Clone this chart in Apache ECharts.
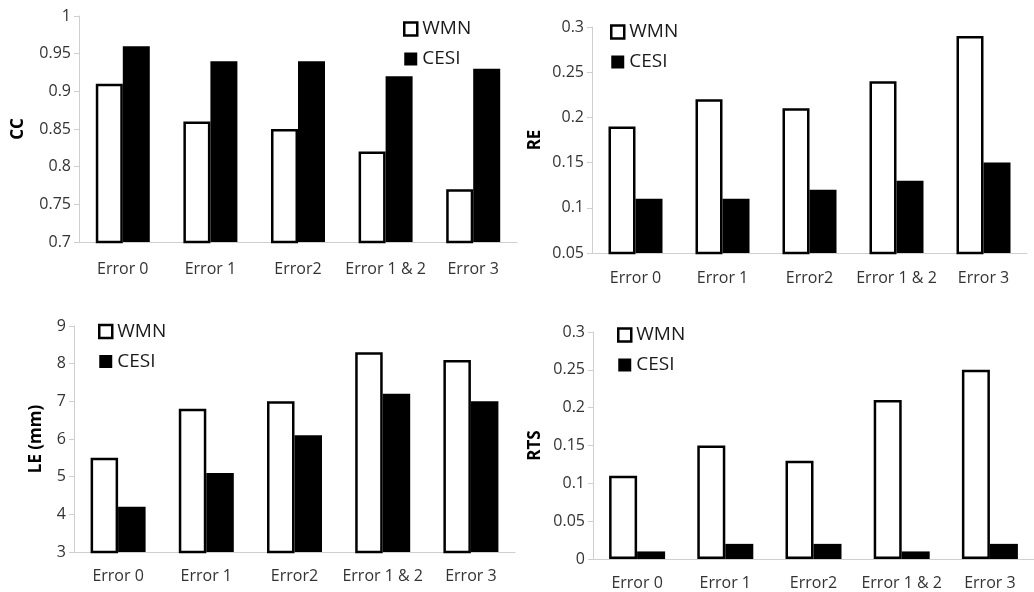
<!DOCTYPE html>
<html>
<head>
<meta charset="utf-8">
<script src="https://cdn.jsdelivr.net/npm/echarts@6/dist/echarts.min.js"></script>
<style>
html,body{margin:0;padding:0;background:#fff;}
#chart{width:1034px;height:592px;}
</style>
</head>
<body>
<div id="chart"></div>
<script>
// Data
const categories = ['Error 0', 'Error 1', 'Error2', 'Error 1 & 2', 'Error 3'];
const seriesNames = ['WMN', 'CESI'];

const ccWMN  = [0.91, 0.86, 0.85, 0.82, 0.77];
const ccCESI = [0.96, 0.94, 0.94, 0.92, 0.93];

const reWMN  = [0.19, 0.22, 0.21, 0.24, 0.29];
const reCESI = [0.11, 0.11, 0.12, 0.13, 0.15];

const leWMN  = [5.5, 6.8, 7.0, 8.3, 8.1];
const leCESI = [4.2, 5.1, 6.1, 7.2, 7.0];

const rtsWMN  = [0.11, 0.15, 0.13, 0.21, 0.25];
const rtsCESI = [0.01, 0.02, 0.02, 0.01, 0.02];

const panelTitles = ['CC', 'RE', 'LE (mm)', 'RTS'];
const yMins = [0.7, 0.05, 3, 0];
const yMaxs = [1, 0.3, 9, 0.3];
const yIntervals = [0.05, 0.05, 1, 0.05];

// Layout / style
const FONT = '"Open Sans", "DejaVu Sans", sans-serif';
const grids = [
  {left: 79,  top: 16,  width: 438, height: 226},
  {left: 592, top: 27,  width: 435, height: 226},
  {left: 74,  top: 326, width: 441, height: 226},
  {left: 593, top: 332, width: 446, height: 227}
];
const nameGaps = [52, 48.5, 29, 49.5];
const labelMargins = [19, 17.5, 16, 16.5];
const barWidths = [27, 27, 27.5, 28];
const legendPos = [
  {left: 403, top: 19.5},
  {left: 610, top: 22.5},
  {left: 98,  top: 322},
  {left: 617, top: 325.5}
];
const axisGray = '#cfcfcf';
const textColor = '#333333';

const data = [[ccWMN, ccCESI], [reWMN, reCESI], [leWMN, leCESI], [rtsWMN, rtsCESI]];

const xAxes = [], yAxes = [], series = [], legends = [];
for (let i = 0; i < 4; i++) {
  xAxes.push({
    type: 'category', gridIndex: i, data: categories,
    axisLine: {lineStyle: {color: axisGray, width: 1}},
    axisTick: {show: false},
    axisLabel: {interval: 0, fontFamily: FONT, fontSize: 16, color: textColor, margin: labelMargins[i]}
  });
  yAxes.push({
    type: 'value', gridIndex: i, min: yMins[i], max: yMaxs[i], interval: yIntervals[i],
    name: panelTitles[i], nameLocation: 'middle', nameGap: nameGaps[i], nameRotate: 90,
    nameTextStyle: {fontFamily: FONT, fontSize: 17, fontWeight: 'bold', color: '#000'},
    axisLine: {show: true, lineStyle: {color: axisGray, width: 1}},
    axisTick: {show: true, length: 5, lineStyle: {color: axisGray}},
    splitLine: {show: false},
    axisLabel: {fontFamily: FONT, fontSize: 16, color: textColor, margin: 8}
  });
  series.push({
    name: seriesNames[0], type: 'bar', xAxisIndex: i, yAxisIndex: i,
    data: data[i][0], barWidth: barWidths[i], barGap: '0%',
    itemStyle: {color: '#ffffff', borderColor: '#000000', borderWidth: 2.5}
  });
  series.push({
    name: seriesNames[1], type: 'bar', xAxisIndex: i, yAxisIndex: i,
    data: data[i][1], barWidth: barWidths[i], barGap: '0%',
    itemStyle: {color: '#000000'}
  });
  legends.push({
    orient: 'vertical', left: legendPos[i].left, top: legendPos[i].top,
    padding: 0, itemGap: 11, itemWidth: 13, itemHeight: 13, icon: 'rect',
    selectedMode: false,
    textStyle: {fontFamily: FONT, fontSize: 19, color: '#1a1a1a', lineHeight: 19},
    data: [
      {name: seriesNames[0], itemStyle: {color: '#ffffff', borderColor: '#000000', borderWidth: 2.5}},
      {name: seriesNames[1], itemStyle: {color: '#000000'}}
    ]
  });
}

const chart = echarts.init(document.getElementById('chart'), null, {renderer: 'canvas'});
chart.setOption({
  animation: false,
  backgroundColor: '#ffffff',
  grid: grids,
  xAxis: xAxes,
  yAxis: yAxes,
  legend: legends,
  series: series
});
</script>
</body>
</html>
